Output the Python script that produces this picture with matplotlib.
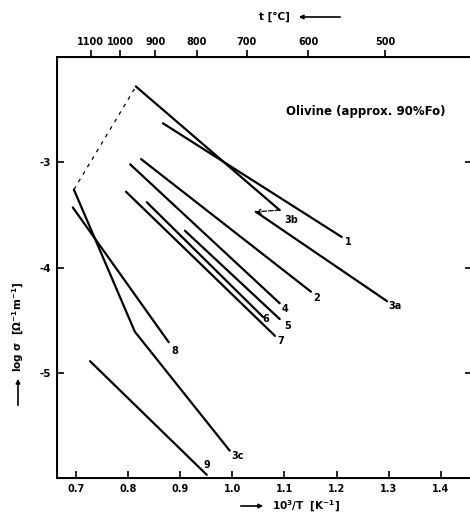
import numpy as np
import matplotlib
matplotlib.use("Agg")
import matplotlib.pyplot as plt

# conductivity lines for olivine (x = 10^3/T, y = log sigma)
line_names = ["1", "2", "3a", "3b", "3c", "4", "5", "6", "7", "8", "9"]
line_x = {
    "1": [0.867, 1.210],
    "2": [0.825, 1.151],
    "3a": [1.045, 1.297],
    "3b": [0.815, 1.091],
    "3c": [0.696, 0.813, 0.995],
    "4": [0.804, 1.091],
    "5": [0.909, 1.091],
    "6": [0.836, 1.059],
    "7": [0.796, 1.082],
    "8": [0.694, 0.878],
    "9": [0.727, 0.951],
}
line_y = {
    "1": [-2.63, -3.71],
    "2": [-2.97, -4.23],
    "3a": [-3.47, -4.32],
    "3b": [-2.28, -3.455],
    "3c": [-3.26, -4.61, -5.74],
    "4": [-3.02, -4.34],
    "5": [-3.65, -4.49],
    "6": [-3.38, -4.47],
    "7": [-3.28, -4.65],
    "8": [-3.43, -4.71],
    "9": [-4.89, -5.97],
}
# label positions next to line ends
label_x = [1.222, 1.162, 1.312, 1.114, 1.011, 1.101, 1.107, 1.064, 1.093, 0.890, 0.951]
label_y = [-3.76, -4.29, -4.37, -3.55, -5.79, -4.39, -4.555, -4.49, -4.70, -4.79, -5.88]

x_ticks = [0.7, 0.8, 0.9, 1.0, 1.1, 1.2, 1.3, 1.4]
y_ticks = [-3, -4, -5]
t_ticks = [1100, 1000, 900, 800, 700, 600, 500]  # deg C

W, H = 470, 519
fig = plt.figure(figsize=(W / 100, H / 100), dpi=100)
ax = fig.add_axes([57 / W, 41 / H, 415 / W, 421 / H])

fnt = dict(family="DejaVu Sans", weight="bold")

for n in line_names:
    ax.plot(line_x[n], line_y[n], color="black", lw=1.6, solid_capstyle="round")

# dashed links between the parts of curve 3
ax.plot([line_x["3c"][0], line_x["3b"][0]], [line_y["3c"][0], line_y["3b"][0]],
        color="black", lw=0.9, ls=(0, (3, 4)))
ax.annotate("", xy=(line_x["3a"][0], line_y["3a"][0]),
            xytext=(line_x["3b"][-1], line_y["3b"][-1]),
            arrowprops=dict(arrowstyle="->", color="black", lw=0.9, ls="--",
                            shrinkA=0, shrinkB=0, mutation_scale=7))

for n, lx, ly in zip(line_names, label_x, label_y):
    ax.text(lx, ly, n, fontsize=7, ha="center", va="center", **fnt)

ax.set_xlim(0.6636, 1.46)
ax.set_ylim(-6, -2)
ax.set_xticks(x_ticks)
ax.set_xticklabels(["%.1f" % v for v in x_ticks], fontsize=7, **fnt)
ax.set_yticks(y_ticks)
ax.set_yticklabels(["-%d" % abs(v) for v in y_ticks], fontsize=7.5, **fnt)
ax.tick_params(direction="in", length=5, width=1.2, top=True, right=True, pad=4)
for s in ax.spines.values():
    s.set_linewidth(1.4)

# temperature scale on top
top = ax.twiny()
top.set_xlim(ax.get_xlim())
top.set_xticks([1000.0 / (t + 273.15) for t in t_ticks])
top.set_xticklabels([str(t) for t in t_ticks], fontsize=7, **fnt)
top.tick_params(direction="out", length=5, width=1.2, pad=2)

fig.text(445 / W, 1 - 112 / H, "Olivine (approx. 90%Fo)", ha="right", va="center",
         fontsize=8.5, **fnt)

# axis titles with arrows
fig.text(272 / W, 1 - 506 / H, r"$\mathbf{10^3}$/T  [K$^{\mathbf{-1}}$]", ha="left",
         va="center", fontsize=7.5, **fnt)
fig.add_artist(matplotlib.patches.FancyArrowPatch(
    (238 / W, 1 - 506 / H), (266 / W, 1 - 506 / H), transform=fig.transFigure,
    arrowstyle="-|>", mutation_scale=6, lw=1.2, color="black"))

fig.text(290 / W, 1 - 17 / H, "t [°C]", ha="right", va="center", fontsize=7.5, **fnt)
fig.add_artist(matplotlib.patches.FancyArrowPatch(
    (343 / W, 1 - 17 / H), (296 / W, 1 - 17 / H), transform=fig.transFigure,
    arrowstyle="-|>", mutation_scale=6, lw=1.2, color="black"))

fig.text(18 / W, 1 - 372 / H, r"log $\mathbf{\sigma}$  [$\mathbf{\Omega^{-1}m^{-1}}$]",
         rotation=90, ha="center", va="bottom", fontsize=7.5, **fnt)
fig.add_artist(matplotlib.patches.FancyArrowPatch(
    (18 / W, 1 - 408 / H), (18 / W, 1 - 376 / H), transform=fig.transFigure,
    arrowstyle="-|>", mutation_scale=6, lw=1.2, color="black"))

fig.savefig("out.png", dpi=100)
